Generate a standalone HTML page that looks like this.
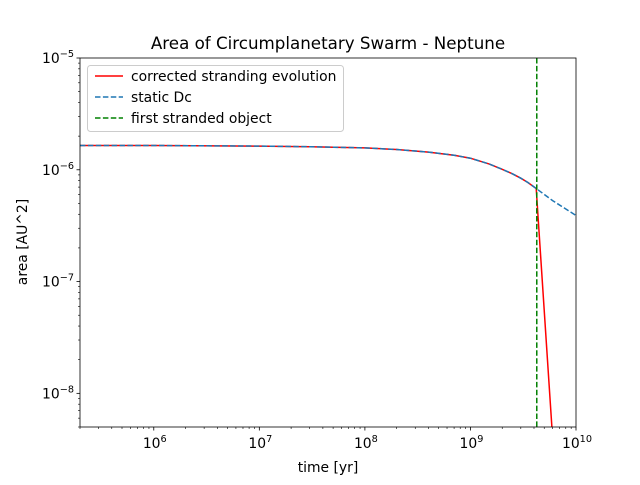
<!DOCTYPE html>
<html><head><meta charset="utf-8"><style>
body{margin:0;background:#fff}
svg text{font-family:"DejaVu Sans","Liberation Sans",sans-serif;fill:#000}
</style></head><body>
<svg id="chart" width="640" height="480" viewBox="0 0 640 480" xmlns="http://www.w3.org/2000/svg">
<rect width="640" height="480" fill="#fff"/>
<text x="328" y="49" font-size="16.7" text-anchor="middle">Area of Circumplanetary Swarm - Neptune</text>
<g id="plot"></g>
<text x="328" y="472" font-size="13.9" text-anchor="middle">time [yr]</text>
<text transform="translate(27,242) rotate(-90)" font-size="13.9" text-anchor="middle">area [AU^2]</text>
</svg>
<script>
const staticT = [2e5, 1e6, 1e7, 3e7, 1e8, 2e8, 4e8, 7e8, 1e9, 1.5e9, 2e9, 2.5e9, 3e9, 3.5e9, 4.2e9, 6e9, 1e10];
const staticA = [1.65e-6, 1.65e-6, 1.63e-6, 1.61e-6, 1.57e-6, 1.52e-6, 1.44e-6, 1.35e-6, 1.27e-6, 1.13e-6, 1.01e-6, 9.2e-7, 8.4e-7, 7.7e-7, 6.8e-7, 5.3e-7, 3.9e-7];
const corrT = [2e5, 1e6, 1e7, 3e7, 1e8, 2e8, 4e8, 7e8, 1e9, 1.5e9, 2e9, 2.5e9, 3e9, 3.5e9, 4.2e9, 6.0e9];
const corrA = [1.65e-6, 1.65e-6, 1.63e-6, 1.61e-6, 1.57e-6, 1.52e-6, 1.44e-6, 1.35e-6, 1.27e-6, 1.13e-6, 1.01e-6, 9.2e-7, 8.4e-7, 7.7e-7, 6.8e-7, 4e-9];
const strandT = 4.25e9;
const xTickExp = [6, 7, 8, 9, 10];
const yTickExp = [-5, -6, -7, -8];

const L=80,R=576,T=58,B=427, xmin=Math.log10(2e5), xmax=10, ymin=Math.log10(5e-9), ymax=-5;
const NS="http://www.w3.org/2000/svg";
const X=v=>L+(Math.log10(v)-xmin)/(xmax-xmin)*(R-L);
const Y=v=>B-(Math.log10(v)-ymin)/(ymax-ymin)*(B-T);
const g=document.getElementById('plot');
function mk(t,a,p){const e=document.createElementNS(NS,t);for(const k in a)e.setAttribute(k,a[k]);(p||g).appendChild(e);return e;}
const clip=mk('clipPath',{id:'c'});mk('rect',{x:L,y:T,width:R-L,height:B-T},clip);
for(let d=5;d<=10;d++)for(let m=1;m<10;m++){const v=m*Math.pow(10,d);if(v<2e5||v>1e10)continue;const x=X(v);
 const t=mk('line',{x1:x,x2:x,y1:B,y2:B+(m==1?3.5:2),stroke:'#000','stroke-width':m==1?0.8:0.6});
 }
for(let d=-9;d<=-5;d++)for(let m=1;m<10;m++){const v=m*Math.pow(10,d);if(v<5e-9||v>1e-5*1.0001)continue;const y=Y(v);
 const t=mk('line',{x1:L,x2:L-(m==1?3.5:2),y1:y,y2:y,stroke:'#000','stroke-width':m==1?0.8:0.6});
 }
xTickExp.forEach(e=>{const t=mk('text',{x:X(Math.pow(10,e))+1,y:B+21,'font-size':13.9,'text-anchor':'middle'});
 t.innerHTML='10<tspan dy="-6" font-size="9.7">'+e+'</tspan>';
 });
yTickExp.forEach(e=>{const t=mk('text',{x:L-6,y:Y(Math.pow(10,e))+5,'font-size':13.9,'text-anchor':'end'});
 t.innerHTML='10<tspan dy="-6" font-size="9.7">\u2212'+(-e)+'</tspan>';
 });
const pts=(ts,as)=>ts.map((t,i)=>X(t).toFixed(1)+','+Y(as[i]).toFixed(1)).join(' ');
let e=mk('polyline',{points:pts(corrT,corrA),fill:'none',stroke:'#ff0000','stroke-width':1.5,'clip-path':'url(#c)'});

e=mk('polyline',{points:pts(staticT,staticA),fill:'none',stroke:'#1f77b4','stroke-width':1.5,'stroke-dasharray':'5.5,2.4','clip-path':'url(#c)'});

e=mk('line',{x1:X(strandT),x2:X(strandT),y1:T,y2:B,stroke:'#008000','stroke-width':1.5,'stroke-dasharray':'5.5,2.4'});

e=mk('rect',{x:L,y:T,width:R-L,height:B-T,fill:'none',stroke:'#000','stroke-width':0.8});

const lg=mk('g',{});
mk('rect',{x:87.5,y:65.5,width:256,height:66,rx:3,fill:'#fff','fill-opacity':0.8,stroke:'#ccc'},lg);
[['corrected stranding evolution','#ff0000',''],['static Dc','#1f77b4','5.5,2.4'],['first stranded object','#008000','5.5,2.4']].forEach((it,i)=>{
 const y=76+i*21;const en=mk('g',{},lg);
 
 const a={x1:95,x2:123,y1:y,y2:y,stroke:it[1],'stroke-width':1.5};if(it[2])a['stroke-dasharray']=it[2];
 mk('line',a,en);const t=mk('text',{x:131,y:y+5,'font-size':13.9},en);t.textContent=it[0];});
</script>
</body></html>
